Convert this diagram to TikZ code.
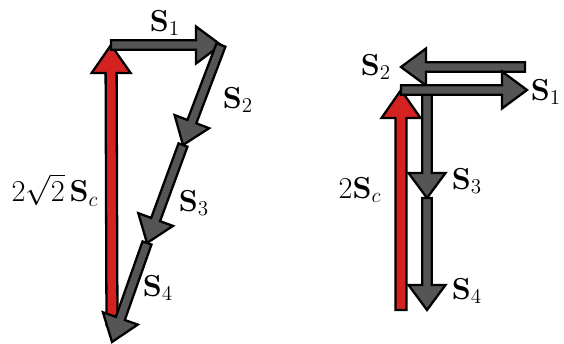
\documentclass[tikz,border=0pt]{standalone}
\usepackage{amsmath,amssymb}
\usepackage{tikz}
\usetikzlibrary{calc}
\definecolor{vgray}{RGB}{85,85,85}
\definecolor{vred}{RGB}{212,34,34}
\tikzset{
  vec/.style={draw=black, line width=1.3pt, fill=vgray},
  res/.style={draw=black, line width=1.3pt, fill=vred},
  lab/.style={font=\LARGE, inner sep=1pt},
}
% fat arrow: style, tail, tip, half shaft, half head, head length
\newcommand{\fatvec}[6]{%
  \coordinate (hb) at ($(#3)!#6!(#2)$);
  \draw[#1] ($(#2)!#4!90:(#3)$) -- ($(hb)!#4!90:(#3)$) -- ($(hb)!#5!90:(#3)$) -- (#3)
    -- ($(hb)!#5!-90:(#3)$) -- ($(hb)!#4!-90:(#3)$) -- ($(#2)!#4!-90:(#3)$) -- cycle;}
\newcommand{\gvec}[2]{\fatvec{vec}{#1}{#2}{0.095cm}{0.37cm}{0.5cm}}
\newcommand{\rvec}[2]{\fatvec{res}{#1}{#2}{0.11cm}{0.39cm}{0.56cm}}

\begin{document}
\begin{tikzpicture}[x=0.02cm, y=-0.02cm]
  \useasboundingbox (0,0) rectangle (564,344);
  % left: vectors head to tail
  \coordinate (a0) at (111,45);
  \coordinate (a1) at (221,45);
  \coordinate (a2) at (183,145);
  \coordinate (a3) at (147,243);
  \coordinate (a4) at (112,342);
  \coordinate (ar) at (112,325);
  \rvec{ar}{a0}
  \gvec{a0}{a1}
  \gvec{a1}{a2}
  \gvec{a2}{a3}
  \gvec{a3}{a4}
  \node[lab] (ls1) at (165,23) {$\mathbf{S}_1$};
  \node[lab] (ls2) at (238,100) {$\mathbf{S}_2$};
  \node[lab] (ls3) at (194,203) {$\mathbf{S}_3$};
  \node[lab] (ls4) at (158,288) {$\mathbf{S}_4$};
  \node[lab] (lsc) at (55,190) {$2\sqrt{2}\,\mathbf{S}_c$};
  % right: vectors head to tail
  \coordinate (b0) at (401,90);
  \coordinate (b1) at (527,90);
  \coordinate (b2t) at (525,67);
  \coordinate (b2) at (401,67);
  \coordinate (b3t) at (427,90);
  \coordinate (b3) at (427,198);
  \coordinate (b4) at (427,310);
  \coordinate (br) at (401,310);
  \gvec{b3t}{b3}
  \gvec{b3}{b4}
  \rvec{br}{b0}
  \gvec{b2t}{b2}
  \gvec{b0}{b1}
  \node[lab] (rs2) at (376,67) {$\mathbf{S}_2$};
  \node[lab] (rs1) at (546,92) {$\mathbf{S}_1$};
  \node[lab] (rs3) at (467,181) {$\mathbf{S}_3$};
  \node[lab] (rs4) at (467,291) {$\mathbf{S}_4$};
  \node[lab] (rsc) at (360,190) {$2\mathbf{S}_c$};
\end{tikzpicture}
\end{document}
